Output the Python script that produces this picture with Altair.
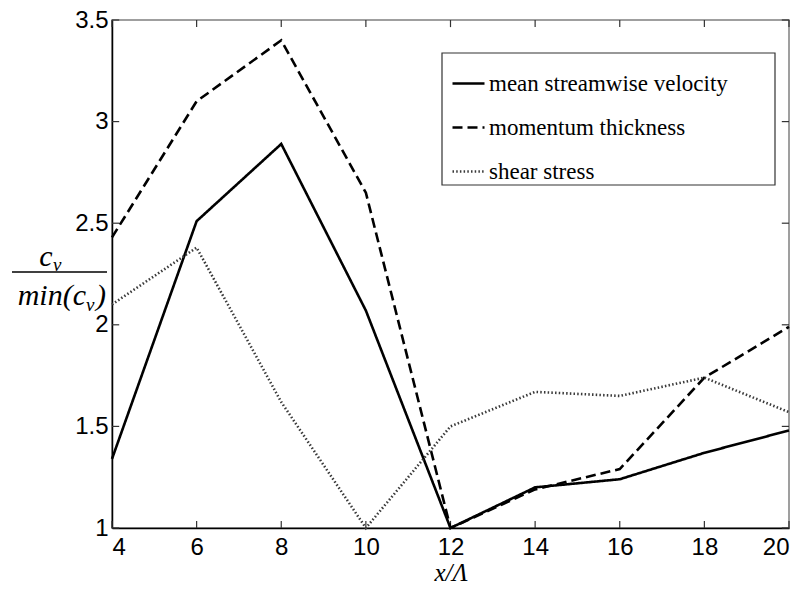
import altair as alt
import pandas as pd

x_vals = [4, 6, 8, 10, 12, 14, 16, 18, 20]
velocity = [1.34, 2.51, 2.89, 2.07, 1.00, 1.20, 1.24, 1.37, 1.48]
momentum = [2.43, 3.10, 3.40, 2.65, 1.00, 1.19, 1.29, 1.74, 1.99]
shear = [2.10, 2.38, 1.62, 1.00, 1.50, 1.67, 1.65, 1.74, 1.57]

series_names = ["mean streamwise velocity", "momentum thickness", "shear stress"]
series_colors = ["#000000", "#000000", "#3a3a3a"]
series_dash = [[1, 0], [10, 5], [1.5, 2.2]]
series_width = [2.6, 2.6, 2.2]

x_ticks = [4, 6, 8, 10, 12, 14, 16, 18, 20]
y_ticks = [1, 1.5, 2, 2.5, 3, 3.5]

rows = []
for name, vals in zip(series_names, [velocity, momentum, shear]):
    for xv, yv in zip(x_vals, vals):
        rows.append({"x": xv, "y": yv, "series": name})
df = pd.DataFrame(rows)

serif = "Liberation Serif"
sans = "Liberation Sans"

W, H = 677, 508
xs = alt.Scale(domain=[4, 20], nice=False, zero=False)
ys = alt.Scale(domain=[1, 3.5], nice=False, zero=False)

lines = alt.Chart(df).mark_line().encode(
    x=alt.X("x:Q", scale=xs,
            axis=alt.Axis(values=x_ticks, title="x/Λ", ticks=False, tickSize=0,
                          labelFont=sans, labelFontSize=24, labelColor="#000",
                          labelPadding=7, domainColor="#000", domainWidth=1.5,
                          grid=False, titleFont=serif, titleFontStyle="italic",
                          titleFontWeight="normal", titleFontSize=25, titlePadding=1,
                          titleColor="#000")),
    y=alt.Y("y:Q", scale=ys,
            axis=alt.Axis(values=y_ticks, title=None, ticks=False, tickSize=0,
                          labelFont=sans, labelFontSize=24, labelColor="#000",
                          labelPadding=4, domainColor="#000", domainWidth=1.5, grid=False,
                          labelExpr="datum.value == 1 || datum.value == 2 || datum.value == 3 ? format(datum.value, 'd') : format(datum.value, '.1f')")),
    color=alt.Color("series:N", scale=alt.Scale(domain=series_names, range=series_colors),
                    legend=alt.Legend(title=None, orient="none", legendX=330, legendY=37,
                                      symbolType="stroke", symbolSize=1024,
                                      labelFont=serif, labelFontSize=23,
                                      labelColor="#000", labelOffset=3,
                                      labelLimit=500, rowPadding=14, padding=9,
                                      strokeColor="transparent", fillColor="transparent")),
    strokeDash=alt.StrokeDash("series:N", scale=alt.Scale(domain=series_names, range=series_dash),
                              legend=None),
    strokeWidth=alt.StrokeWidth("series:N", scale=alt.Scale(domain=series_names, range=series_width),
                                legend=None),
)

# inward tick marks (MATLAB style)
tick_rows = []
for t in x_ticks:
    tick_rows.append({"x": t, "x2": t, "y": 1.0, "y2": 1.035})
    tick_rows.append({"x": t, "x2": t, "y": 3.5, "y2": 3.465})
for t in y_ticks:
    tick_rows.append({"x": 4.0, "x2": 4.17, "y": t, "y2": t})
    tick_rows.append({"x": 20.0, "x2": 19.83, "y": t, "y2": t})
tick_df = pd.DataFrame(tick_rows)
ticks = alt.Chart(tick_df).mark_rule(color="#333", strokeWidth=1.2).encode(
    x=alt.X("x:Q", scale=xs), x2="x2:Q", y=alt.Y("y:Q", scale=ys), y2="y2:Q")

one = pd.DataFrame({"k": [0]})
legend_box = alt.Chart(one).mark_rect(fill="white", stroke="#333", strokeWidth=1.2).encode(
    x=alt.value(330), x2=alt.value(663), y=alt.value(33), y2=alt.value(165))

num_c = alt.Chart(one).mark_text(text="c", font=serif, fontStyle="italic", fontSize=30,
                                 align="center", baseline="alphabetic", color="#000").encode(
    x=alt.value(-66), y=alt.value(246))
num_v = alt.Chart(one).mark_text(text="v", font=serif, fontStyle="italic", fontSize=19,
                                 align="left", baseline="alphabetic", color="#000").encode(
    x=alt.value(-59), y=alt.value(251))
frac = alt.Chart(one).mark_rule(color="#000", strokeWidth=1.5).encode(
    x=alt.value(-100), x2=alt.value(-5), y=alt.value(252))
den_a = alt.Chart(one).mark_text(text="min(c", font=serif, fontStyle="italic", fontSize=30,
                                 align="right", baseline="alphabetic", color="#000").encode(
    x=alt.value(-26), y=alt.value(285))
den_v = alt.Chart(one).mark_text(text="v", font=serif, fontStyle="italic", fontSize=19,
                                 align="left", baseline="alphabetic", color="#000").encode(
    x=alt.value(-26), y=alt.value(291))
den_b = alt.Chart(one).mark_text(text=")", font=serif, fontStyle="italic", fontSize=30,
                                 align="left", baseline="alphabetic", color="#000").encode(
    x=alt.value(-16), y=alt.value(285))

chart = alt.layer(ticks, lines, legend_box, num_c, num_v, frac, den_a, den_v, den_b).properties(
    width=W, height=H,
    autosize=alt.AutoSizeParams(type="none"),
    padding={"left": 112, "top": 20, "right": 13, "bottom": 65},
    background="white",
).configure_view(stroke="#808080", strokeWidth=1.5)

chart.save("out.html", embed_options={"renderer": "svg", "actions": False})
